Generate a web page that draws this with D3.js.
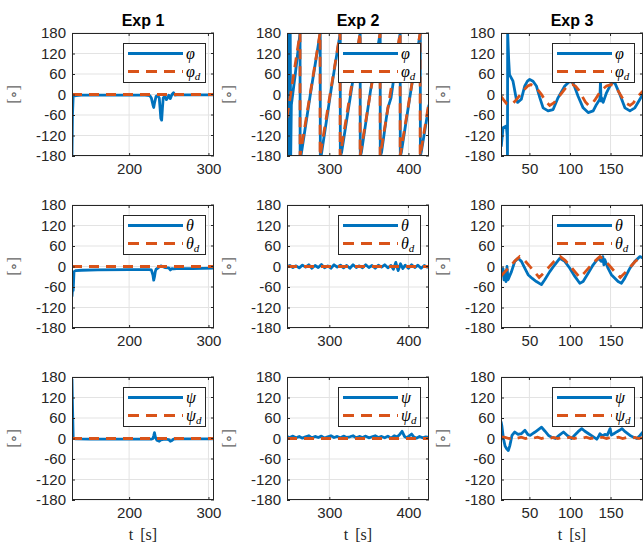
<!DOCTYPE html>
<html><head><meta charset="utf-8">
<script src="https://cdn.jsdelivr.net/npm/d3@7"></script>
<style>body{margin:0;background:#fff}svg{display:block}</style>
</head><body>
<script>
// ---------- labels / ticks ----------
const titles = ["Exp 1", "Exp 2", "Exp 3"];
const xDomains = [[128, 307], [246.5, 426], [15, 190]];
const xTicks = [[200, 300], [300, 400], [50, 100, 150]];
const yTicks = [-180, -120, -60, 0, 60, 120, 180];
const symbols = ["φ", "θ", "ψ"];
const yLabel = "[∘]";
const xLabel = "t [s]";

// ---------- Exp 1 ----------
const e1PhiT = [128,128.6,129.5,133,140,150,170,200,220,226,228,230,231,232,234,236,238,239,240,241,242,243,245,247,249,250,252,254,256,258,260,280,307];
const e1PhiV = [-180,-60,-5,-3,-2,-2,-2,-2,-2,-3,-10,-30,-38,-25,-5,-3,-10,-40,-70,-75,-40,-10,-5,-15,-8,-2,-12,0,5,-2,-1,-1,-1];
const e1PhiDT = [128,307];
const e1PhiDV = [0,0];
const e1ThT = [128,128.8,129.5,130.5,133,140,160,200,225,228,230,231,232,233,234,236,238,240,242,245,250,252,254,256,260,280,307];
const e1ThV = [-88,-60,-70,-15,-12,-11,-10,-9,-9,-10,-25,-40,-30,-15,-8,-5,-1,2,0,-3,-4,-10,-6,-7,-6,-6,-5];
const e1ThDT = [128,307];
const e1ThDV = [0,0];
const e1PsT = [128,128.6,129.5,132,150,200,228,230,231,232,233,235,238,240,242,245,250,252,254,256,260,280,307];
const e1PsV = [175,100,2,-1,-2,-2,-2,0,8,17,5,-5,-8,-4,-3,-2,-3,-8,-6,-2,-1,-1,-1];
const e1PsDT = [128,307];
const e1PsDV = [0,0];

// ---------- Exp 2 ----------
const e2PhiT = [246.5,247,247.6,248.2,248.8,249.4,250,250.6,251.2,252,257,263,263.1,264.5,276,288.5,288.6,290,302,313.8,313.9,315.5,327,339,339.1,340.5,352,364.3,364.4,366,372,374,378,389.6,389.7,391,403,415,415.1,416.5,426];
const e2PhiV = [-180,180,-180,180,-180,180,-180,180,-180,-30,60,180,-180,-175,0,180,-180,-175,10,180,-180,-170,0,180,-180,-170,10,180,-180,-170,-70,-40,-10,180,-180,-170,10,180,-180,-165,-30];
const e2PhiDT = [246.5,263,263,288.3,288.3,313.6,313.6,338.9,338.9,364.2,364.2,389.5,389.5,414.8,414.8,426];
const e2PhiDV = [-68,180,-180,180,-180,180,-180,180,-180,180,-180,180,-180,180,-180,-22];
const e2ThT = [246,250,254,258,262,266,270,274,278,282,286,290,294,298,302,306,310,314,318,322,326,330,334,338,342,346,350,354,358,362,366,370,374,378,381,384,387,390,393,396,400,404,408,412,416,420,424,426];
const e2ThV = [0,3,-3,2,-4,4,-2,5,-5,3,-3,6,-4,2,-5,5,-2,4,-4,3,-5,5,-3,2,-4,5,-3,3,-5,4,-2,5,-4,3,-8,12,-12,8,-6,4,-5,5,-3,4,-5,3,-2,0];
const e2ThDT = [246.5,426];
const e2ThDV = [0,0];
const e2PsT = [246,250,254,258,262,266,270,274,278,282,286,290,294,298,302,306,310,314,318,322,326,330,334,338,342,346,350,354,358,362,366,370,374,378,382,386,389,392,395,398,401,404,407,410,414,418,422,426];
const e2PsV = [6,3,7,2,6,1,5,8,2,6,3,7,1,5,8,3,6,2,7,3,5,8,2,6,3,7,2,5,8,3,6,2,7,1,8,5,12,21,6,2,8,13,4,1,6,2,5,3];
const e2PsDT = [246.5,426];
const e2PsDV = [0,0];

// ---------- Exp 3 ----------
const e3PhiT = [15,15.4,17.5,21.6,22.6,23,23.2,24.5,25.5,29.8,33.9,35.5,40,44.3,47.6,50.4,54.5,58.6,62.8,66.9,73,79.2,85.4,93.6,99.8,103.9,110,116.2,122.4,128.6,132.7,136.8,137.6,138.3,139,140.9,145,151.2,155.3,161.5,167.7,173.9,180,186.2,190.3];
const e3PhiV = [-150,-150,-97,-92,-120,-180,180,100,58,39,-14,-23,-14,25,39,44,39,25,-9,-39,-48,-44,-9,25,39,34,-5,-39,-53,-48,-29,-14,39,-19,-10,-23,5,34,34,0,-39,-48,-39,-14,5];
const e3PhiDT = [15,18,22,26,30,34,39,44,48,52,56,60,65,70,75,80,85,90,95,99,103,107,111,115,119,123,127,131,135,140,145,151,155,159,164,169,174,178,182,186,190];
const e3PhiDV = [-5,-15,-27,-30,-25,-15,0,15,25,29,25,15,0,-20,-32,-25,-10,5,20,27,29,24,12,-5,-22,-32,-28,-15,0,15,25,29,25,12,-8,-25,-32,-25,-12,0,10];
const e3ThT = [15,17.5,18.7,19.9,21.2,22.4,23.7,27.9,32,36.1,40.2,44.3,48.4,53.5,58.6,64.8,68.9,75.1,81.2,87.4,93.6,99.8,106,112.1,116.2,122.4,128.6,134.7,138.8,140.5,141.8,143,146.9,151,159.3,163.4,167.5,173.9,180,186.2,190.3];
const e3ThV = [-10,-7,-39,-15,-44,0,-39,-15,15,24,15,-5,-24,-35,-44,-53,-39,-15,5,24,15,-5,-29,-49,-44,-20,5,24,15,29,5,20,-5,-24,-44,-49,-34,-5,15,29,24];
const e3ThDT = [15,20,26,32,38,44,50,56,62,68,74,80,88,94,100,106,112,118,124,130,137,143,149,155,162,168,174,180,188,190];
const e3ThDV = [-28,-15,0,16,29,18,2,-15,-32,-18,-2,14,29,18,2,-15,-32,-18,-2,14,29,18,2,-15,-32,-18,-2,14,29,27];
const e3PsT = [15,16,18,20,22,24,26,28.5,32,36,40,44.5,48,51,54,57,61,65,69,73.5,78,82,87,92,97,102,106,110,114.5,118,123,128,133,135,137,140,143,146,149.5,151,154,158,161,164,168,174,178,182.5,186,190];
const e3PsV = [50,38,0,-22,-30,-35,-20,9,19,12,14,24,12,9,14,19,26,33,22,9,3,0,10,19,8,0,10,20,29,22,14,6,-2,5,14,8,12,10,29,10,14,20,24,29,20,9,4,0,8,19];
const e3PsDT = [15,20,25,30,35,40,45,50,55,60,65,70,75,80,85,90,95,100,105,110,115,120,125,130,135,140,145,150,155,160,165,170,175,180,185,190];
const e3PsDV = [5,3,0,3,1,4,0,3,1,4,0,3,1,3,0,3,1,4,0,3,1,4,0,2,1,4,0,3,1,4,0,3,1,3,0,3];

// grid[row][col] = [actualT, actualV, desiredT, desiredV]
const grid = [
  [[e1PhiT,e1PhiV,e1PhiDT,e1PhiDV],[e2PhiT,e2PhiV,e2PhiDT,e2PhiDV],[e3PhiT,e3PhiV,e3PhiDT,e3PhiDV]],
  [[e1ThT,e1ThV,e1ThDT,e1ThDV],[e2ThT,e2ThV,e2ThDT,e2ThDV],[e3ThT,e3ThV,e3ThDT,e3ThDV]],
  [[e1PsT,e1PsV,e1PsDT,e1PsDV],[e2PsT,e2PsV,e2PsDT,e2PsDV],[e3PsT,e3PsV,e3PsDT,e3PsDV]]
];

// ---------- drawing ----------
const W = 643, H = 542;
const colX = [72, 287, 501], rowY = [33, 205, 377];
const pw = 142, ph = 123;
const blue = "#0072BD", orange = "#D95319", axisCol = "#262626";
const sans = "'Liberation Sans', Arial, Helvetica, sans-serif";
const serif = "'Liberation Serif', 'DejaVu Serif', serif";
const fmt = d => String(d);

const svg = d3.select("body").append("svg").attr("width", W).attr("height", H);
const defs = svg.append("defs");

for (let r = 0; r < 3; r++) {
  for (let c = 0; c < 3; c++) {
    const g = svg.append("g").attr("transform", `translate(${colX[c]},${rowY[r]})`);
    const x = d3.scaleLinear().domain(xDomains[c]).range([0, pw]);
    const y = d3.scaleLinear().domain([-180, 180]).range([ph, 0]);
    const clipId = `clip-${r}-${c}`;
    defs.append("clipPath").attr("id", clipId).append("rect").attr("width", pw).attr("height", ph);

    // grid
    g.selectAll(".gx").data(xTicks[c]).enter().append("line")
      .attr("x1", d => x(d)).attr("x2", d => x(d)).attr("y1", 0).attr("y2", ph)
      .attr("stroke", "#e3e3e3").attr("stroke-width", 1);
    g.selectAll(".gy").data(yTicks).enter().append("line")
      .attr("x1", 0).attr("x2", pw).attr("y1", d => y(d)).attr("y2", d => y(d))
      .attr("stroke", "#e3e3e3").attr("stroke-width", 1);

    // data
    const [at, av, dt, dv] = grid[r][c];
    const line = d3.line().x(d => x(d[0])).y(d => y(d[1]));
    const plot = g.append("g").attr("clip-path", `url(#${clipId})`);
    plot.append("path").datum(at.map((t, i) => [t, av[i]]))
      .attr("d", line).attr("fill", "none").attr("stroke", blue)
      .attr("stroke-width", 2.8).attr("stroke-linejoin", "round");
    plot.append("path").datum(dt.map((t, i) => [t, dv[i]]))
      .attr("d", line).attr("fill", "none").attr("stroke", orange)
      .attr("stroke-width", 2.8).attr("stroke-dasharray", "10,7");

    // axes
    const ax = g.append("g").attr("transform", `translate(0,${ph})`)
      .call(d3.axisBottom(x).tickValues(xTicks[c]).tickSize(-3).tickPadding(7).tickFormat(fmt));
    const ay = g.append("g")
      .call(d3.axisLeft(y).tickValues(yTicks).tickSize(-3).tickPadding(6).tickFormat(fmt));
    [ax, ay].forEach(a => {
      a.select(".domain").remove();
      a.selectAll(".tick line").attr("stroke", axisCol);
      a.selectAll(".tick text").attr("fill", axisCol).style("font-family", sans).style("font-size", "15px");
    });
    // mirrored ticks
    g.selectAll(".tr").data(yTicks).enter().append("line")
      .attr("x1", pw).attr("x2", pw - 3).attr("y1", d => y(d)).attr("y2", d => y(d)).attr("stroke", axisCol);
    g.selectAll(".tt").data(xTicks[c]).enter().append("line")
      .attr("x1", d => x(d)).attr("x2", d => x(d)).attr("y1", 0).attr("y2", 3).attr("stroke", axisCol);
    g.append("rect").attr("x", 0.5).attr("y", 0.5).attr("width", pw - 1).attr("height", ph - 1)
      .attr("fill", "none").attr("stroke", axisCol).attr("stroke-width", 1);

    // y label
    g.append("text").attr("transform", `translate(${-53},${y(0)}) rotate(-90)`)
      .attr("text-anchor", "middle").attr("fill", "#666")
      .style("font-family", serif).style("font-size", "16px").text(yLabel);

    // legend
    const lw = 82, lh = 39;
    const lg = g.append("g").attr("transform", `translate(${pw - 9 - lw},${10})`);
    lg.append("rect").attr("x", 0.5).attr("y", 0.5).attr("width", lw).attr("height", lh)
      .attr("fill", "#fff").attr("stroke", axisCol).attr("stroke-width", 1);
    lg.append("line").attr("x1", 5).attr("x2", 60).attr("y1", 10.5).attr("y2", 10.5)
      .attr("stroke", blue).attr("stroke-width", 2.8);
    lg.append("line").attr("x1", 5).attr("x2", 60).attr("y1", 28.5).attr("y2", 28.5)
      .attr("stroke", orange).attr("stroke-width", 2.8).attr("stroke-dasharray", "11,7");
    lg.append("text").attr("x", 63).attr("y", 15.5).style("font-family", serif)
      .style("font-style", "italic").style("font-size", "16px").attr("fill", "#000").text(symbols[r]);
    const t2 = lg.append("text").attr("x", 63).attr("y", 33.5).style("font-family", serif)
      .style("font-style", "italic").style("font-size", "16px").attr("fill", "#000");
    t2.append("tspan").text(symbols[r]);
    t2.append("tspan").attr("dy", 3).style("font-size", "11px").text("d");

    if (r === 0) {
      g.append("text").attr("x", pw / 2).attr("y", -7).attr("text-anchor", "middle")
        .style("font-family", sans).style("font-weight", "bold").style("font-size", "16px")
        .attr("fill", "#000").text(titles[c]);
    }
    if (r === 2) {
      g.append("text").attr("x", pw / 2).attr("y", ph + 40).attr("text-anchor", "middle")
        .style("font-family", serif).style("font-size", "16px").attr("fill", axisCol)
        .style("word-spacing", "3px").text(xLabel);
    }
  }
}
</script>
</body></html>
